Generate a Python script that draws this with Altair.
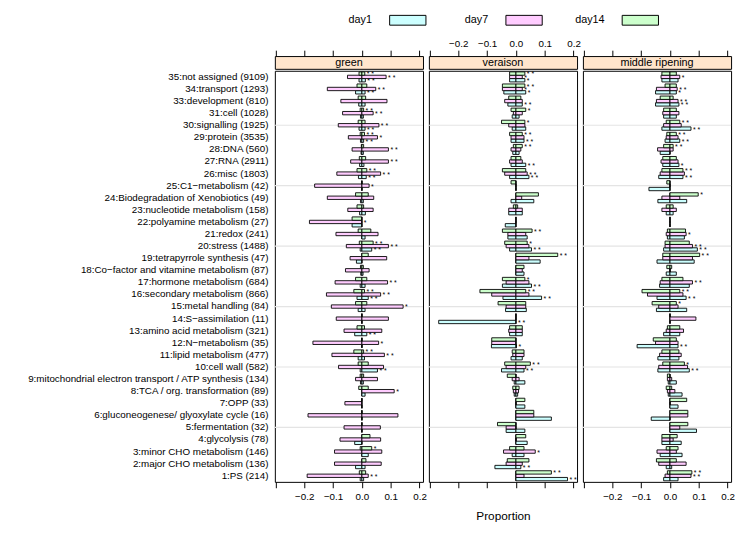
import altair as alt
import pandas as pd

cats = ["35:not assigned (9109)", "34:transport (1293)", "33:development (810)", "31:cell (1028)",
        "30:signalling (1925)", "29:protein (3535)", "28:DNA (560)", "27:RNA (2911)", "26:misc (1803)",
        "25:C1\u2212metabolism (42)", "24:Biodegradation of Xenobiotics (49)", "23:nucleotide metabolism (158)",
        "22:polyamine metabolism (27)", "21:redox (241)", "20:stress (1488)", "19:tetrapyrrole synthesis (47)",
        "18:Co\u2212factor and vitamine metabolism (87)", "17:hormone metabolism (684)",
        "16:secondary metabolism (866)", "15:metal handling (84)", "14:S\u2212assimilation (11)",
        "13:amino acid metabolism (321)", "12:N\u2212metabolism (35)", "11:lipid metabolism (477)",
        "10:cell wall (582)", "9:mitochondrial electron transport / ATP synthesis (134)",
        "8:TCA / org. transformation (89)", "7:OPP (33)", "6:gluconeogenese/ glyoxylate cycle (16)",
        "5:fermentation (32)", "4:glycolysis (78)", "3:minor CHO metabolism (146)",
        "2:major CHO metabolism (136)", "1:PS (214)"]
days = ["day1", "day7", "day14"]
day_colors = ["#CCFFFF", "#FFCCFF", "#CCFFCC"]
panels = ["green", "veraison", "middle ripening"]
ref_rows = [cats[4], cats[9], cats[14], cats[19], cats[24], cats[29]]
x_ticks = [-0.3, -0.2, -0.1, 0.0, 0.1, 0.2]

# green
green_day14_lo = [-0.010,-0.017,-0.013,-0.006,-0.013,-0.006,-0.002,-0.009,-0.017,0,-0.022,-0.017,-0.034,-0.013,-0.009,0,-0.005,-0.022,-0.028,-0.022,0,-0.017,0,-0.028,-0.013,-0.006,-0.011,0,0,0,0,-0.006,0,-0.009]
green_day14_hi = [0.010,0.017,0.013,0.006,0.011,0.009,0.006,0.013,0.017,0,0.022,0.006,0,0.031,0.039,0.022,0.005,0.017,0.009,0.017,0,0.009,0,0.006,0.022,0.006,0.022,0,0,0,0.028,0.034,0.014,0.013]
green_day7_lo = [-0.050,-0.120,-0.073,-0.067,-0.082,-0.047,-0.034,-0.039,-0.087,-0.164,-0.120,-0.049,-0.182,-0.090,-0.054,-0.041,-0.057,-0.093,-0.123,-0.106,-0.089,-0.062,-0.170,-0.104,-0.081,-0.022,0,-0.059,-0.187,-0.062,-0.076,-0.095,-0.095,-0.190]
green_day7_hi = [0.084,0.048,0.087,0.039,0.059,0.054,0.092,0.092,0.065,0.025,0.041,0.039,0,0.056,0.092,0.086,0.025,0.089,0.065,0.143,0.092,0.069,0.058,0.078,0.075,0.054,0.112,0,0.125,0.064,0.065,0.069,0.067,0.022]
green_day1_lo = [-0.010,-0.022,-0.011,-0.005,-0.010,-0.005,-0.003,-0.008,-0.012,0,-0.005,-0.008,-0.034,0,-0.006,-0.019,-0.004,-0.006,-0.017,-0.013,0,-0.025,0,-0.013,-0.006,-0.005,0,0,0,0,-0.025,0,-0.022,-0.006]
green_day1_hi = [0.012,0.011,0.011,0.005,0.011,0.006,0.005,0.007,0.015,0,0.005,0.012,0,0.011,0.034,0,0.004,0.011,0.022,0.011,0,0.017,0,0.009,0.054,0.005,0.011,0,0,0,0,0.022,0.011,0.006]

# veraison
ver_day14_lo = [-0.022,-0.047,-0.025,-0.017,-0.050,-0.022,-0.009,-0.017,-0.047,-0.017,0,-0.009,0,-0.047,-0.039,0,0,-0.047,-0.125,-0.062,0,-0.022,-0.084,-0.013,-0.039,-0.030,-0.011,0,0,-0.064,0,-0.022,-0.030,0]
ver_day14_hi = [0.031,0.031,0.017,0.034,0.031,0.022,0.022,0.017,0.034,0,0.078,0.006,0,0.056,0.039,0.145,0.028,0.031,0.034,0.034,0,0.022,0,0.028,0.050,0,0.011,0.031,0.062,0,0.034,0.028,0.045,0.123]
ver_day7_lo = [-0.022,-0.047,-0.039,-0.009,-0.025,-0.017,-0.017,-0.022,-0.039,0,0,-0.025,0,-0.028,-0.034,0,0,-0.034,-0.084,-0.034,0,-0.025,-0.084,-0.011,-0.034,-0.013,-0.009,0,0,-0.034,0,-0.043,-0.034,0]
ver_day7_hi = [0.022,0.022,0.022,0.022,0.031,0.028,0.017,0.022,0.039,0,0.020,0.022,0,0.034,0.045,0.045,0.022,0.045,0.045,0.034,0,0.022,0,0.028,0.034,0.011,0.009,0,0.062,0,0,0.067,0.022,0.028]
ver_day1_lo = [-0.022,-0.042,-0.028,-0.013,-0.013,-0.017,-0.011,-0.017,-0.022,0,-0.017,-0.025,-0.037,-0.028,-0.022,0,0,-0.047,-0.045,-0.036,-0.268,-0.022,-0.085,-0.017,-0.050,-0.006,-0.006,0,0,-0.034,0,-0.013,-0.073,0]
ver_day1_hi = [0.031,0.034,0.022,0.011,0.034,0.028,0.011,0.034,0.045,0,0.062,0.022,0,0.039,0.054,0.084,0.028,0.054,0.089,0.036,0,0.022,0.002,0.022,0.028,0.031,0.006,0.031,0.123,0.031,0.039,0.028,0.017,0.179]

# middle ripening
mid_day14_lo = [-0.028,-0.017,-0.034,-0.022,-0.013,-0.011,-0.022,-0.025,-0.028,-0.011,0,-0.013,0,-0.009,-0.017,-0.025,-0.011,-0.028,-0.097,-0.062,0,-0.009,-0.058,-0.028,-0.025,-0.009,-0.013,0,0,0,-0.028,-0.013,-0.047,-0.009]
mid_day14_hi = [0.022,0.022,0.011,0.022,0.034,0.022,0.011,0.022,0.045,0,0.098,0.011,0,0.054,0.067,0.103,0.006,0.045,0.034,0.022,0,0.034,0.022,0.031,0.050,0,0.006,0.058,0.062,0.062,0.025,0.028,0.022,0.076]
mid_day7_lo = [-0.031,-0.047,-0.047,-0.025,-0.022,-0.013,-0.043,-0.031,-0.034,0,-0.028,-0.028,0,-0.013,-0.017,-0.025,0,-0.034,-0.078,-0.039,0,-0.013,-0.050,-0.036,-0.039,-0.009,-0.009,0,0,0,-0.028,-0.045,-0.039,-0.017]
mid_day7_hi = [0.034,0.025,0.028,0.031,0.039,0.028,0.011,0.028,0.050,0,0.034,0.022,0,0.056,0.078,0.078,0,0.078,0.045,0.028,0.090,0.047,0.028,0.039,0.061,0.006,0.017,0,0.062,0.034,0.011,0.022,0.056,0.073]
mid_day1_lo = [-0.028,-0.050,-0.050,-0.022,-0.028,-0.017,-0.034,-0.025,-0.039,-0.073,-0.042,-0.013,0,-0.009,-0.022,-0.045,-0.013,-0.036,-0.045,-0.047,0,-0.022,-0.114,-0.042,-0.042,-0.006,-0.006,0,-0.065,0,-0.028,-0.034,-0.013,-0.022]
mid_day1_hi = [0.028,0.022,0.031,0.022,0.073,0.034,0,0.031,0.045,0,0.058,0.011,0,0.050,0.095,0.084,0.022,0.067,0.056,0.058,0,0.034,0.028,0.031,0.067,0.022,0.042,0.028,0,0.092,0.039,0.042,0.006,0.028]

# significance marks: (category number, day, text)
green_stars = [(35,"day7","* *"),(35,"day14","* *"),(35,"day1","* *"),(34,"day7","* *"),(34,"day1","* *"),
               (31,"day7","* *"),(31,"day14","* *"),(30,"day7","* *"),(30,"day1","* *"),(29,"day7","*"),
               (29,"day14","* *"),(29,"day1","* *"),(28,"day7","* *"),(27,"day7","* *"),(26,"day7","* *"),
               (26,"day14","* *"),(26,"day1","* *"),(25,"day7","*"),(22,"day7","*"),(20,"day7","* *"),
               (20,"day14","* *"),(20,"day1","* *"),(17,"day7","* *"),(16,"day7","* *"),(16,"day14","* *"),
               (16,"day1","* *"),(15,"day7","*"),(13,"day1","* *"),(12,"day7","*"),(11,"day7","* *"),
               (11,"day14","* *"),(10,"day1","* *"),(8,"day7","*"),(3,"day14","*"),(1,"day7","* *")]
ver_stars = [(35,"day14","* *"),(35,"day7","*"),(35,"day1","*"),(34,"day14","* *"),(34,"day7","*"),
             (34,"day1","*"),(33,"day1","* *"),(31,"day14","*"),(30,"day14","*"),(29,"day14","* *"),
             (29,"day1","* *"),(28,"day14","* *"),(27,"day1","* *"),(26,"day7","* *"),(26,"day1","* *"),
             (21,"day14","* *"),(20,"day14","*"),(20,"day1","* *"),(19,"day14","* *"),(17,"day14","*"),
             (17,"day1","* *"),(16,"day14","* *"),(16,"day1","* *"),(14,"day1","* *"),(12,"day1","*"),
             (10,"day14","* *"),(10,"day1","* *"),(3,"day7","*"),(2,"day1","* *"),(1,"day14","* *"),
             (1,"day1","* *")]
mid_stars = [(35,"day7","*"),(34,"day7","* *"),(34,"day1","*"),(33,"day7","* *"),(33,"day1","* *"),
             (30,"day14","* *"),(30,"day1","* *"),(29,"day14","* *"),(29,"day1","* *"),(28,"day14","* *"),
             (27,"day1","*"),(26,"day14","* *"),(26,"day1","* *"),(24,"day14","*"),(21,"day7","*"),
             (20,"day7","* *"),(20,"day1","* *"),(19,"day14","* *"),(17,"day7","* *"),(16,"day14","* *"),
             (16,"day1","* *"),(15,"day14","*"),(12,"day1","* *"),(10,"day14","*"),(10,"day1","* *"),
             (1,"day14","* *"),(1,"day7","* *")]

panel_data = {
    "green": {"day1": (green_day1_lo, green_day1_hi), "day7": (green_day7_lo, green_day7_hi),
              "day14": (green_day14_lo, green_day14_hi)},
    "veraison": {"day1": (ver_day1_lo, ver_day1_hi), "day7": (ver_day7_lo, ver_day7_hi),
                 "day14": (ver_day14_lo, ver_day14_hi)},
    "middle ripening": {"day1": (mid_day1_lo, mid_day1_hi), "day7": (mid_day7_lo, mid_day7_hi),
                        "day14": (mid_day14_lo, mid_day14_hi)},
}
panel_stars = {"green": green_stars, "veraison": ver_stars, "middle ripening": mid_stars}

XDOM = [-0.302, 0.212]
W, H, SH = 151, 419, 13
FONT = "Liberation Sans"
day_order = ["day14", "day7", "day1"]
cat_by_num = {int(c.split(":")[0]): c for c in cats}

ysc = alt.Scale(domain=cats, paddingInner=0.17, paddingOuter=0.09)
ysc_off = alt.Scale(domain=day_order, paddingInner=0, paddingOuter=0)
xsc = alt.Scale(domain=XDOM, nice=False, zero=False)
fillsc = alt.Scale(domain=days, range=day_colors)


def make_column(i, p):
    rows = []
    for d in days:
        lo, hi = panel_data[p][d]
        for k, c in enumerate(cats):
            rows.append({"cat": c, "day": d, "v": lo[k], "z": 0.0})
            rows.append({"cat": c, "day": d, "v": hi[k], "z": 0.0})
    df = pd.DataFrame(rows)
    srows = []
    for num, d, t in panel_stars[p]:
        k = cats.index(cat_by_num[num])
        srows.append({"cat": cat_by_num[num], "day": d, "v": panel_data[p][d][1][k], "t": t})
    sdf = pd.DataFrame(srows)

    show_bottom = p != "veraison"
    bottom_axis = alt.Axis(
        orient="bottom", values=x_ticks, tickSize=6, labelPadding=4, grid=False, domain=False,
        labelExpr=("datum.value < -0.25 ? '' : format(datum.value, '.1f')" if show_bottom else "''"),
        title=(None if show_bottom else "Proportion"), titleFontSize=12, titleFontWeight="normal",
        titlePadding=9,
    )
    if i == 0:
        yaxis = alt.Axis(title=None, ticks=False, domain=False, labelPadding=7, labelFontSize=10,
                         labelLimit=400)
    else:
        yaxis = None

    ref = alt.Chart(pd.DataFrame({"cat": ref_rows})).mark_rule(color="#E4E4E4", strokeWidth=1.2).encode(
        y=alt.Y("cat:N", sort=cats, scale=ysc, axis=yaxis)
    )
    bars = alt.Chart(df).mark_bar(stroke="black", strokeWidth=0.9, opacity=1).encode(
        x=alt.X("v:Q", scale=xsc, axis=bottom_axis),
        x2="z:Q",
        y=alt.Y("cat:N", sort=cats, scale=ysc, axis=yaxis),
        yOffset=alt.YOffset("day:N", sort=day_order, scale=ysc_off),
        fill=alt.Fill("day:N", scale=fillsc, legend=None),
    )
    stars = alt.Chart(sdf).mark_text(align="left", baseline="middle", dx=2, dy=1, fontSize=7,
                                     font=FONT, color="black").encode(
        x=alt.X("v:Q", scale=xsc, axis=bottom_axis),
        y=alt.Y("cat:N", sort=cats, scale=ysc, axis=yaxis),
        yOffset=alt.YOffset("day:N", sort=day_order, scale=ysc_off),
        text="t:N",
    )
    main = alt.layer(ref, bars, stars).properties(width=W, height=H)

    top_axis = alt.Axis(
        orient="top", values=x_ticks, tickSize=6, labelPadding=2, grid=False, domain=False, title=None,
        labelExpr=("datum.value < -0.25 ? '' : format(datum.value, '.1f')" if p == "veraison" else "''"),
    )
    strip = alt.Chart(pd.DataFrame({"x": [(XDOM[0] + XDOM[1]) / 2], "t": [p]})).mark_text(
        font=FONT, fontSize=11, baseline="middle", color="black"
    ).encode(
        x=alt.X("x:Q", scale=xsc, axis=top_axis),
        y=alt.value(SH / 2 + 0.5),
        text="t:N",
    ).properties(width=W, height=SH, view=alt.ViewBackground(fill="#FFE5CC", stroke="black"))
    return alt.vconcat(strip, main, spacing=0)


cols = [make_column(i, p) for i, p in enumerate(panels)]
grid = alt.hconcat(*cols, spacing=0)

leg_df = pd.DataFrame({"day": days})
leg_x = alt.X("day:N", sort=days, axis=None,
              scale=alt.Scale(type="point", domain=days, range=[99, 336], padding=0))
leg_text = alt.Chart(leg_df).mark_text(align="right", baseline="middle", fontSize=11, font=FONT,
                                       color="black").encode(x=leg_x, y=alt.value(4.5), text="day:N")
leg_box = alt.Chart(leg_df).mark_point(
    shape="M-1,-0.27L1,-0.27L1,0.27L-1,0.27Z", size=1369, filled=True, opacity=1,
    stroke="black", strokeWidth=1, xOffset=36.5
).encode(x=leg_x, y=alt.value(4.5), fill=alt.Fill("day:N", scale=fillsc, legend=None))
legend = alt.layer(leg_text, leg_box).properties(width=3 * W, height=9,
                                                  view=alt.ViewBackground(stroke=None))

chart = alt.vconcat(legend, grid, spacing=10).properties(
    padding={"left": 18, "right": 0, "top": 0, "bottom": 0}
).configure_view(stroke="black", strokeWidth=1).configure_axis(
    labelFont=FONT, titleFont=FONT, labelColor="black", titleColor="black", tickColor="black",
    labelFontSize=10, tickWidth=1
).configure_text(font=FONT)

chart.save("out.html", embed_options={"renderer": "svg", "actions": False})
